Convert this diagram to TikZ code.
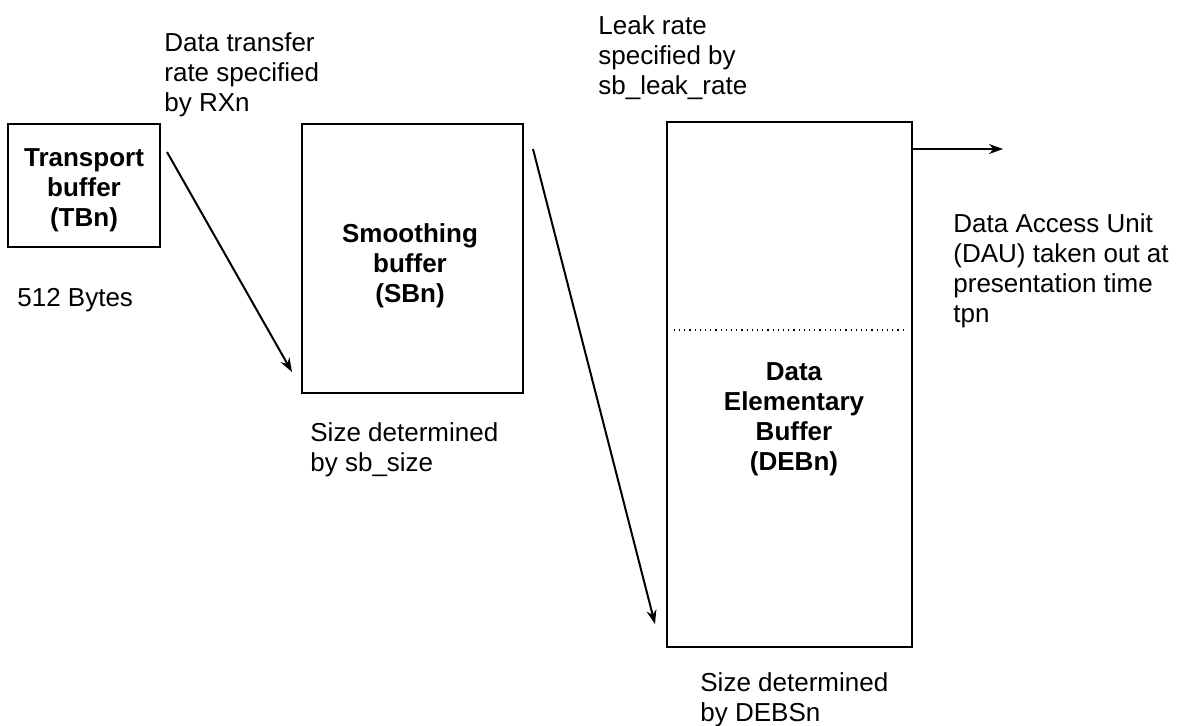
\documentclass[tikz,border=0pt]{standalone}
\usepackage{fontspec}
\setmainfont{Liberation Sans}
\usetikzlibrary{arrows.meta}
\newcommand{\diagfont}{\fontsize{13}{15}\selectfont}
\tikzset{buffer/.style={draw,line width=1.3pt,inner sep=0pt},
         caption/.style={anchor=north west,inner sep=0pt,align=left,font=\diagfont},
         title/.style={inner sep=0pt,align=center,font=\diagfont\bfseries},
         flow/.style={line width=1pt,-{Stealth[length=7pt,width=5pt]}},
         level/.style={dotted,line width=0.6pt},
         }
\begin{document}
\begin{tikzpicture}[x=0.5pt,y=-0.5pt]
\useasboundingbox (0,0) rectangle (1196,725);

% the three buffers
\node[buffer,minimum width=76pt,minimum height=61.5pt] (tb) at (84,185.5) {};
\node[buffer,minimum width=110.5pt,minimum height=134.5pt] (sb) at (412.5,258.5) {};
\node[buffer,minimum width=122.5pt,minimum height=262.5pt] (deb) at (789.5,384.5) {};

\node[title] (tbname) at (84,190) {Transport\\buffer\\(TBn)};
\node[title] (sbname) at (410,266) {Smoothing\\buffer\\(SBn)};
\node[title] (debname) at (794,419) {Data\\Elementary\\Buffer\\(DEBn)};

% level inside DEBn
\coordinate (fill) at (0,330);
\draw[level] ([xshift=4pt]deb.west |- fill) -- ([xshift=-3pt]deb.east |- fill);

% flows
\coordinate (rxfrom) at (167,152);
\coordinate (rxto) at (292,372);
\coordinate (leakfrom) at (533,149);
\coordinate (leakto) at (655,624);
\coordinate (dauto) at (1003,149);
\draw[flow] (rxfrom) -- (rxto);
\draw[flow] (leakfrom) -- (leakto);
\draw[flow] (deb.east |- dauto) -- (dauto);

% notes
\node[caption] (rxn) at (164,32) {Data transfer\\rate specified\\by RXn};
\node[caption] (leak) at (598,15) {Leak rate\\specified by\\sb\_leak\_rate};
\node[caption] (tbsize) at (17,288) {512 Bytes};
\node[caption] (sbsize) at (310,422) {Size determined\\by sb\_size};
\node[caption] (dau) at (953,213) {Data Access Unit\\(DAU) taken out at\\presentation time\\tpn};
\node[caption] (debsize) at (700,672) {Size determined\\by DEBSn};
\end{tikzpicture}
\end{document}
